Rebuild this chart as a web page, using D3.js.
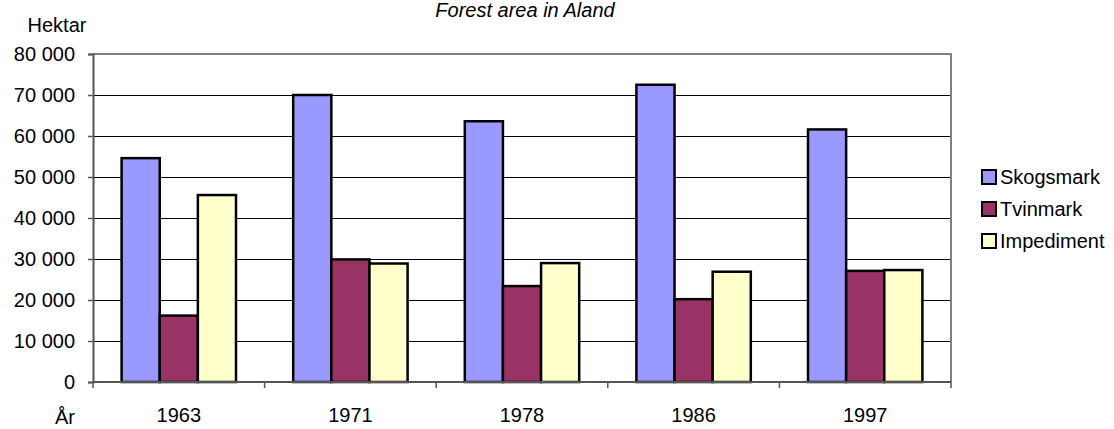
<!DOCTYPE html>
<html>
<head>
<meta charset="utf-8">
<script src="https://cdn.jsdelivr.net/npm/d3@7"></script>
<style>
  body { margin: 0; background: #fff; }
  text { font-family: "Liberation Sans", Arial, sans-serif; }
</style>
</head>
<body>
<div id="content"></div>
<script>
let width = 1114;
let height = 429;
let margin = ({top: 54, right: 163, bottom: 47, left: 93});

// Data
let years = ["1963", "1971", "1978", "1986", "1997"];
let seriesNames = ["Skogsmark", "Tvinmark", "Impediment"];
let skogsmark = [54600, 70000, 63600, 72500, 61600];
let tvinmark = [16200, 29900, 23400, 20200, 27100];
let impediment = [45600, 28900, 29000, 26900, 27300];
let yTicks = [0, 10000, 20000, 30000, 40000, 50000, 60000, 70000, 80000];

let seriesValues = [skogsmark, tvinmark, impediment];

let colors = d3.scaleOrdinal()
    .domain(seriesNames)
    .range(["#9999FF", "#993366", "#FFFFCC"]);

let svg = d3.select("#content")
    .append("svg")
    .attr("width", width)
    .attr("height", height);

let xScale = d3.scaleBand()
    .domain(years)
    .range([margin.left, width - margin.right]);

// gap between groups = 1.5 bar widths
let xInner = d3.scaleBand()
    .domain(seriesNames)
    .range([0, xScale.bandwidth()])
    .paddingOuter(0.75)
    .paddingInner(0);

let yScale = d3.scaleLinear()
    .domain([0, 80000])
    .range([height - margin.bottom, margin.top]);

let fmt = v => d3.format(",")(v).replace(/,/g, " ");

// Gridlines
svg.append("g")
    .selectAll("line")
    .data(yTicks.filter(d => d > 0 && d < 80000))
    .join("line")
    .attr("x1", margin.left)
    .attr("x2", width - margin.right)
    .attr("y1", d => Math.round(yScale(d)) + 0.5)
    .attr("y2", d => Math.round(yScale(d)) + 0.5)
    .attr("stroke", "#000")
    .attr("stroke-width", 1);

// Plot area border (top / right)
svg.append("path")
    .attr("d", `M${margin.left},${yScale(80000)}H${width - margin.right}V${yScale(0)}`)
    .attr("fill", "none")
    .attr("stroke", "#808080")
    .attr("stroke-width", 2);

// Bars
let groups = svg.append("g")
    .selectAll("g")
    .data(years)
    .join("g")
    .attr("transform", d => `translate(${xScale(d)},0)`);

groups.selectAll("rect")
    .data((d, i) => seriesNames.map((s, j) => ({series: s, value: seriesValues[j][i]})))
    .join("rect")
    .attr("x", d => xInner(d.series))
    .attr("width", xInner.bandwidth())
    .attr("y", d => yScale(d.value))
    .attr("height", d => yScale(0) - yScale(d.value))
    .attr("fill", d => colors(d.series))
    .attr("stroke", "#000")
    .attr("stroke-width", 2.5);

// Y axis
let yAxis = d3.axisLeft(yScale)
    .tickValues(yTicks)
    .tickSize(5)
    .tickFormat(fmt);

let yG = svg.append("g")
    .attr("transform", `translate(${margin.left},0)`)
    .call(yAxis);
yG.select(".domain").attr("stroke", "#555").attr("stroke-width", 2);
yG.selectAll(".tick line").attr("stroke", "#555").attr("stroke-width", 1.5);
yG.selectAll(".tick text")
    .attr("x", -18)
    .attr("font-size", 20)
    .attr("font-family", "Liberation Sans, Arial, sans-serif")
    .attr("fill", "#000");

// X axis (ticks between categories)
let xG = svg.append("g")
    .attr("transform", `translate(0,${yScale(0)})`);
xG.append("line")
    .attr("x1", margin.left)
    .attr("x2", width - margin.right)
    .attr("stroke", "#555")
    .attr("stroke-width", 2);
xG.selectAll(".sep")
    .data(years.map(y => xScale(y)).concat([width - margin.right]))
    .join("line")
    .attr("class", "sep")
    .attr("x1", d => d)
    .attr("x2", d => d)
    .attr("y1", 0)
    .attr("y2", 6)
    .attr("stroke", "#555")
    .attr("stroke-width", 1.5);
xG.selectAll(".lbl")
    .data(years)
    .join("text")
    .attr("class", "lbl")
    .attr("x", d => xScale(d) + xScale.bandwidth() / 2)
    .attr("y", 40)
    .attr("text-anchor", "middle")
    .attr("font-size", 20)
    .text(d => d);

// Axis titles and chart title
svg.append("text")
    .attr("x", 57)
    .attr("y", 32)
    .attr("text-anchor", "middle")
    .attr("font-size", 20)
    .text("Hektar");

svg.append("text")
    .attr("x", 65)
    .attr("y", 424)
    .attr("text-anchor", "middle")
    .attr("font-size", 20)
    .text("År");

svg.append("text")
    .attr("x", 525)
    .attr("y", 17)
    .attr("text-anchor", "middle")
    .attr("font-size", 20)
    .attr("font-style", "italic")
    .text("Forest area in Aland");

// Legend
let legend = svg.append("g")
    .selectAll("g")
    .data(seriesNames)
    .join("g")
    .attr("transform", (d, i) => `translate(982,${177 + i * 32})`);

legend.append("rect")
    .attr("x", 0)
    .attr("y", -7)
    .attr("width", 14)
    .attr("height", 14)
    .attr("fill", d => colors(d))
    .attr("stroke", "#000")
    .attr("stroke-width", 2);

legend.append("text")
    .attr("x", 18)
    .attr("y", 7)
    .attr("font-size", 20)
    .text(d => d);
</script>
</body>
</html>
